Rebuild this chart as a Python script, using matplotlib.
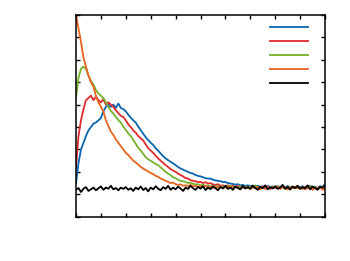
import numpy as np
import matplotlib
matplotlib.use("Agg")
import matplotlib.pyplot as plt

x = np.round(np.arange(0, 10.01, 0.1), 2)

blue = [1.5, 2.4, 3.0, 3.3, 3.6, 3.85, 4.0, 4.15, 4.2, 4.3,
        4.4, 4.7, 4.9, 5.0, 4.9, 5.0, 4.85, 5.05, 4.85, 4.8,
        4.7, 4.55, 4.42, 4.3, 4.2, 4.02, 3.86, 3.7, 3.55, 3.42,
        3.3, 3.2, 3.05, 2.95, 2.82, 2.7, 2.6, 2.52, 2.45, 2.38,
        2.3, 2.22, 2.15, 2.1, 2.05, 2.0, 1.95, 1.92, 1.86, 1.82,
        1.8, 1.76, 1.72, 1.7, 1.7, 1.65, 1.62, 1.6, 1.58, 1.55,
        1.55, 1.50, 1.48, 1.46, 1.43, 1.45, 1.40, 1.42, 1.37, 1.40,
        1.36, 1.39, 1.34, 1.38, 1.32, 1.36, 1.31, 1.37, 1.33, 1.35,
        1.30, 1.36, 1.32, 1.34, 1.29, 1.37, 1.31, 1.33, 1.28, 1.35,
        1.31, 1.36, 1.29, 1.33, 1.38, 1.30, 1.34, 1.28, 1.36, 1.32,
        1.45]

red = [2.2, 3.6, 4.3, 4.8, 5.2, 5.3, 5.4, 5.2, 5.35, 5.2,
       5.1, 5.25, 5.0, 5.1, 5.0, 4.9, 4.75, 4.62, 4.5, 4.45,
       4.3, 4.12, 4.0, 3.85, 3.75, 3.6, 3.5, 3.4, 3.22, 3.06,
       2.95, 2.85, 2.72, 2.6, 2.5, 2.4, 2.3, 2.22, 2.12, 2.06,
       2.0, 1.92, 1.86, 1.8, 1.72, 1.7, 1.63, 1.6, 1.58, 1.55,
       1.55, 1.5, 1.54, 1.48, 1.5, 1.44, 1.42, 1.45, 1.38, 1.40,
       1.36, 1.40, 1.33, 1.38, 1.31, 1.37, 1.30, 1.35, 1.28, 1.34,
       1.30, 1.36, 1.27, 1.33, 1.29, 1.35, 1.24, 1.32, 1.28, 1.34,
       1.27, 1.32, 1.25, 1.35, 1.29, 1.31, 1.23, 1.33, 1.28, 1.36,
       1.26, 1.31, 1.22, 1.29, 1.34, 1.20, 1.30, 1.25, 1.32, 1.27,
       1.24]

green = [5.3, 6.2, 6.6, 6.7, 6.6, 6.3, 6.05, 5.9, 5.65, 5.5,
         5.4, 5.3, 5.1, 4.9, 4.72, 4.6, 4.45, 4.32, 4.2, 4.02,
         3.87, 3.72, 3.6, 3.42, 3.25, 3.08, 2.95, 2.8, 2.66, 2.56,
         2.5, 2.42, 2.35, 2.3, 2.2, 2.1, 2.0, 1.92, 1.85, 1.76,
         1.72, 1.65, 1.6, 1.58, 1.55, 1.5, 1.52, 1.47, 1.44, 1.45,
         1.40, 1.43, 1.37, 1.40, 1.35, 1.38, 1.33, 1.37, 1.32, 1.36,
         1.30, 1.35, 1.38, 1.31, 1.34, 1.28, 1.36, 1.30, 1.33, 1.27,
         1.34, 1.29, 1.40, 1.28, 1.32, 1.26, 1.35, 1.30, 1.25, 1.33,
         1.29, 1.36, 1.27, 1.31, 1.24, 1.34, 1.29, 1.32, 1.26, 1.35,
         1.28, 1.33, 1.25, 1.31, 1.36, 1.27, 1.32, 1.24, 1.30, 1.33,
         1.29]

orange = [9.0, 8.4, 7.8, 7.1, 6.7, 6.3, 6.0, 5.8, 5.4, 5.1,
          4.9, 4.7, 4.3, 4.05, 3.8, 3.65, 3.45, 3.3, 3.15, 3.0,
          2.85, 2.75, 2.62, 2.5, 2.42, 2.32, 2.22, 2.15, 2.08, 2.02,
          1.95, 1.9, 1.82, 1.78, 1.7, 1.66, 1.6, 1.55, 1.5, 1.52,
          1.45, 1.42, 1.44, 1.38, 1.40, 1.36, 1.42, 1.35, 1.38, 1.33,
          1.36, 1.32, 1.38, 1.30, 1.35, 1.28, 1.34, 1.30, 1.36, 1.27,
          1.33, 1.29, 1.35, 1.26, 1.32, 1.30, 1.24, 1.33, 1.28, 1.31,
          1.25, 1.32, 1.27, 1.30, 1.22, 1.31, 1.27, 1.33, 1.24, 1.30,
          1.28, 1.35, 1.25, 1.31, 1.27, 1.22, 1.32, 1.28, 1.34, 1.26,
          1.30, 1.24, 1.33, 1.27, 1.31, 1.22, 1.30, 1.26, 1.33, 1.20,
          1.28]

black = [1.2, 1.28, 1.1, 1.25, 1.32, 1.15, 1.22, 1.3, 1.18, 1.27,
         1.35, 1.2, 1.3, 1.25, 1.38, 1.22, 1.28, 1.18, 1.3, 1.24,
         1.32, 1.2, 1.27, 1.15, 1.3, 1.22, 1.35, 1.19, 1.28, 1.13,
         1.3, 1.22, 1.36, 1.25, 1.18, 1.32, 1.24, 1.38, 1.2, 1.3,
         1.22, 1.34, 1.26, 1.15, 1.3, 1.24, 1.38, 1.27, 1.2, 1.33,
         1.25, 1.36, 1.19, 1.3, 1.23, 1.35, 1.27, 1.18, 1.32, 1.26,
         1.38, 1.24, 1.3, 1.2, 1.35, 1.28, 1.22, 1.37, 1.26, 1.32,
         1.24, 1.38, 1.28, 1.2, 1.34, 1.27, 1.4, 1.22, 1.31, 1.26,
         1.36, 1.24, 1.3, 1.42, 1.25, 1.33, 1.21, 1.35, 1.28, 1.38,
         1.24, 1.32, 1.27, 1.4, 1.22, 1.35, 1.28, 1.2, 1.33, 1.3,
         1.42]

series = [blue, red, green, orange, black]
colors = ["#0a64b0", "#e02a2e", "#77b02a", "#e8641e", "#000000"]

fig = plt.figure(figsize=(3.5, 2.61), dpi=100)
ax = fig.add_axes([76/350, 1 - 216.7/261, (325 - 76)/350, (216.7 - 15)/261])

handles = []
for s, c in zip(series, colors):
    h, = ax.plot(x, s, color=c, lw=1.3)
    handles.append(h)

ax.set_xlim(0, 10)
ax.set_ylim(0, 9)
ax.set_xticks(np.arange(0, 11, 1))
ax.set_yticks(np.arange(0, 10, 1))
ax.tick_params(direction="in", length=3, width=1.0, top=True, right=True,
               labelbottom=False, labelleft=False)
for sp in ax.spines.values():
    sp.set_linewidth(1.1)

ax.legend(handles, [""] * 5, loc="upper right", frameon=False, fontsize=8,
          handlelength=3.4, labelspacing=0.35, borderaxespad=0.3,
          handletextpad=0.2, bbox_to_anchor=(0.971, 0.998))

fig.savefig("out.png", dpi=100)
